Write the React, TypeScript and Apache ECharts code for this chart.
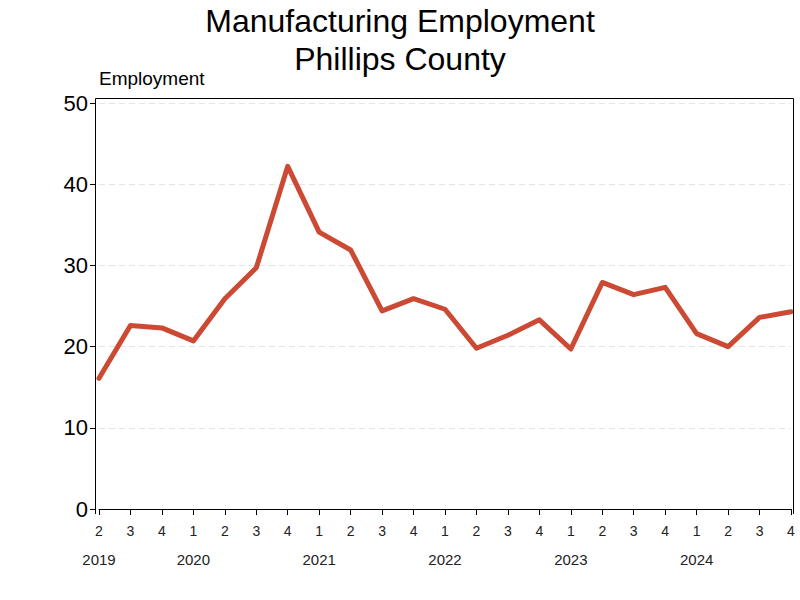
import React, { useEffect, useRef } from "react";
import * as echarts from "echarts";

const quarters = ["2","3","4","1","2","3","4","1","2","3","4","1","2","3","4","1","2","3","4","1","2","3","4"];
const years = ["2019","","","2020","","","","2021","","","","2022","","","","2023","","","","2024","","",""];
const employment = [16.1,22.6,22.3,20.7,25.9,29.7,42.2,34.1,31.9,24.4,25.9,24.6,19.8,21.4,23.3,19.7,27.9,26.4,27.3,21.6,20.0,23.6,24.3];
const yTicks = [0, 10, 20, 30, 40, 50];

const FONT = "'Liberation Sans', Arial, sans-serif";
const NARROW = "'Liberation Sans Narrow', 'Liberation Sans', Arial, sans-serif";

export default function App() {
  const ref = useRef<HTMLDivElement>(null);
  useEffect(() => {
    if (!ref.current) return;
    const chart = echarts.init(ref.current, undefined, { renderer: "svg" });
    const cats = quarters.map((q, i) => i);
    chart.setOption({
      animation: false,
      backgroundColor: "#ffffff",
      title: [
        { text: "Manufacturing Employment", left: "center", top: 0, textStyle: { fontFamily: FONT, fontSize: 32, fontWeight: "normal", color: "#000" } },
        { text: "Phillips County", left: "center", top: 38, textStyle: { fontFamily: FONT, fontSize: 32, fontWeight: "normal", color: "#000" } },
        { text: "Employment", left: 94, top: 64, textStyle: { fontFamily: FONT, fontSize: 19, fontWeight: "normal", color: "#000" } },
      ],
      grid: { left: 99, right: 9, top: 103, bottom: 91, containLabel: false },
      xAxis: [
        {
          type: "category",
          data: cats,
          boundaryGap: false,
          offset: 5,
          axisLine: { show: true, lineStyle: { color: "#000", width: 1 } },
          axisTick: { show: true, length: 6, alignWithLabel: true, lineStyle: { color: "#000" } },
          axisLabel: { interval: 0, margin: 10, fontFamily: NARROW, fontSize: 14, color: "#222", formatter: (v: string) => quarters[Number(v)] },
          splitLine: { show: false },
        },
        {
          type: "category",
          data: cats,
          boundaryGap: false,
          position: "bottom",
          offset: 5,
          axisLine: { show: false },
          axisTick: { show: false },
          axisLabel: { interval: 0, margin: 38, fontFamily: NARROW, fontSize: 15, color: "#222", formatter: (v: string) => years[Number(v)] },
          splitLine: { show: false },
        },
      ],
      yAxis: {
        type: "value",
        min: yTicks[0],
        max: yTicks[yTicks.length - 1],
        interval: 10,
        offset: 4,
        axisLine: { show: true, lineStyle: { color: "#000", width: 1 } },
        axisTick: { show: true, length: 5, lineStyle: { color: "#000" } },
        axisLabel: { margin: 7, fontFamily: FONT, fontSize: 22, color: "#000" },
        splitLine: { show: true, lineStyle: { color: "#e4e4e4", type: [6, 4], width: 1 } },
      },
      graphic: [
        {
          type: "polyline",
          shape: { points: [[95.5, 514], [95.5, 98.5], [793.5, 98.5], [793.5, 514]] },
          style: { fill: null, stroke: "#000", lineWidth: 1 },
          silent: true,
          z: 100,
        },
      ],
      series: [
        {
          type: "line",
          data: employment,
          xAxisIndex: 0,
          symbol: "none",
          lineStyle: { color: "#cc4933", width: 5, join: "round", cap: "round" },
          itemStyle: { color: "#cc4933" },
        },
      ],
    });
    return () => chart.dispose();
  }, []);
  return <div ref={ref} style={{ position: "fixed", left: 0, top: 0, width: 800, height: 600 }} />;
}
